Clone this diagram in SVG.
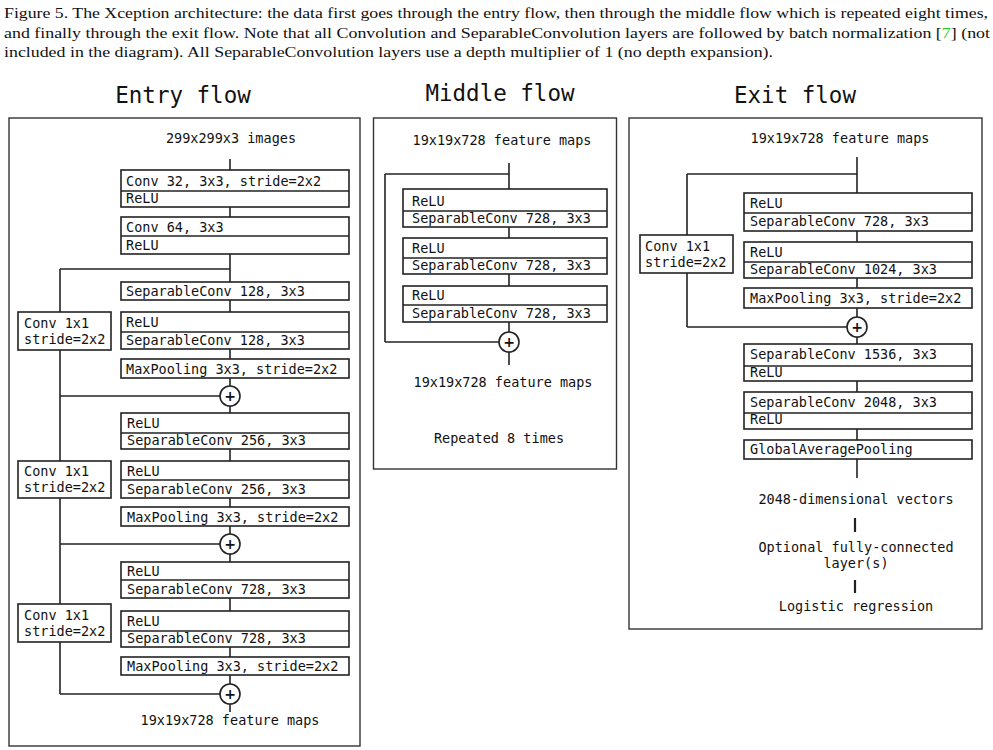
<svg xmlns="http://www.w3.org/2000/svg" width="993" height="750" viewBox="0 0 993 750">
<style>
.cap{font-family:"Liberation Serif","Times New Roman",serif;font-size:15.5px;fill:#111}
.t{font-family:"DejaVu Sans Mono","Liberation Mono",monospace;font-size:13.5px;fill:#111}
.c{text-anchor:middle}
.h{font-family:"DejaVu Sans Mono","Liberation Mono",monospace;font-size:22.5px;fill:#111;text-anchor:middle}
.b{fill:#fff;stroke:#222;stroke-width:1.6}
.fr{fill:#fff;stroke:#333;stroke-width:1.4}
.l{stroke:#222;stroke-width:1.6;fill:none}
.k{stroke:#222;stroke-width:2.2;fill:none}
.p{font-family:"DejaVu Sans","Liberation Sans",sans-serif;font-size:14px;font-weight:bold;fill:#111;text-anchor:middle}
</style>
<rect width="993" height="750" fill="#fff"/>
<g id="caption">
<text class="cap" x="4" y="18" textLength="984" lengthAdjust="spacingAndGlyphs">Figure 5. The Xception architecture: the data first goes through the entry flow, then through the middle flow which is repeated eight times,</text>
<text class="cap" x="4" y="37.5" textLength="986" lengthAdjust="spacingAndGlyphs">and finally through the exit flow. Note that all Convolution and SeparableConvolution layers are followed by batch normalization [<tspan fill="#22cc22">7</tspan>] (not</text>
<text class="cap" x="4" y="57" textLength="769" lengthAdjust="spacingAndGlyphs">included in the diagram). All SeparableConvolution layers use a depth multiplier of 1 (no depth expansion).</text>
</g>
<g id="titles">
<text class="h" x="183" y="103">Entry flow</text>
<text class="h" x="500" y="101">Middle flow</text>
<text class="h" x="795" y="103">Exit flow</text>
</g>
<g id="frames">
<rect class="fr" x="9" y="118" width="351" height="628"/>
<rect class="fr" x="373.5" y="118" width="243" height="351"/>
<rect class="fr" x="629" y="118" width="353" height="511"/>
</g>
<g id="connectors">
<!-- entry -->
<line class="l" x1="230" y1="159" x2="230" y2="170"/>
<line class="l" x1="230" y1="207" x2="230" y2="217"/>
<line class="l" x1="230" y1="254" x2="230" y2="282"/>
<line class="l" x1="60" y1="269" x2="230" y2="269"/>
<line class="l" x1="230" y1="300" x2="230" y2="312"/>
<line class="l" x1="230" y1="349" x2="230" y2="359"/>
<line class="l" x1="230" y1="378" x2="230" y2="386"/>
<line class="l" x1="60" y1="269" x2="60" y2="312"/>
<line class="l" x1="60" y1="350" x2="60" y2="396"/>
<line class="l" x1="60" y1="396" x2="220" y2="396"/>
<line class="l" x1="230" y1="406" x2="230" y2="413"/>
<line class="l" x1="230" y1="449" x2="230" y2="461"/>
<line class="l" x1="230" y1="498" x2="230" y2="507"/>
<line class="l" x1="230" y1="526" x2="230" y2="534"/>
<line class="l" x1="60" y1="396" x2="60" y2="461"/>
<line class="l" x1="60" y1="498" x2="60" y2="544"/>
<line class="l" x1="60" y1="544" x2="220" y2="544"/>
<line class="l" x1="230" y1="554" x2="230" y2="562"/>
<line class="l" x1="230" y1="598" x2="230" y2="611"/>
<line class="l" x1="230" y1="647" x2="230" y2="657"/>
<line class="l" x1="230" y1="675" x2="230" y2="684"/>
<line class="l" x1="60" y1="544" x2="60" y2="604"/>
<line class="l" x1="60" y1="642" x2="60" y2="694"/>
<line class="l" x1="60" y1="694" x2="220" y2="694"/>
<line class="l" x1="230" y1="704" x2="230" y2="712"/>
<!-- middle -->
<line class="l" x1="509" y1="163" x2="509" y2="189"/>
<line class="l" x1="385" y1="174" x2="509" y2="174"/>
<line class="l" x1="385" y1="174" x2="385" y2="342"/>
<line class="l" x1="385" y1="342" x2="499" y2="342"/>
<line class="l" x1="509" y1="227" x2="509" y2="238"/>
<line class="l" x1="509" y1="274" x2="509" y2="286"/>
<line class="l" x1="509" y1="322" x2="509" y2="332"/>
<line class="l" x1="509" y1="352" x2="509" y2="365"/>
<!-- exit -->
<line class="l" x1="857" y1="157" x2="857" y2="193"/>
<line class="l" x1="687" y1="174" x2="857" y2="174"/>
<line class="l" x1="687" y1="174" x2="687" y2="235"/>
<line class="l" x1="687" y1="273" x2="687" y2="327"/>
<line class="l" x1="687" y1="327" x2="847" y2="327"/>
<line class="l" x1="857" y1="231" x2="857" y2="242"/>
<line class="l" x1="857" y1="278" x2="857" y2="288"/>
<line class="l" x1="857" y1="308" x2="857" y2="317"/>
<line class="l" x1="857" y1="337" x2="857" y2="344"/>
<line class="l" x1="857" y1="381" x2="857" y2="392"/>
<line class="l" x1="857" y1="429" x2="857" y2="440"/>
<line class="l" x1="857" y1="459" x2="857" y2="478"/>
<line class="k" x1="855" y1="518" x2="855" y2="532"/>
<line class="k" x1="855" y1="580" x2="855" y2="593"/>
</g>
<!-- ENTRY FLOW NODES -->
<g id="entry-input"><text class="t c" x="231" y="143">299x299x3 images</text></g>
<g id="entry-conv32">
<rect class="b" x="121" y="170" width="228" height="37"/><line class="l" x1="121" y1="191" x2="349" y2="191"/>
<text class="t" x="126" y="186">Conv 32, 3x3, stride=2x2</text><text class="t" x="126" y="203">ReLU</text></g>
<g id="entry-conv64">
<rect class="b" x="121" y="217" width="228" height="37"/><line class="l" x1="121" y1="236" x2="349" y2="236"/>
<text class="t" x="126" y="232">Conv 64, 3x3</text><text class="t" x="126" y="250">ReLU</text></g>
<g id="entry-sep128a">
<rect class="b" x="121" y="282" width="228" height="18"/>
<text class="t" x="126" y="296">SeparableConv 128, 3x3</text></g>
<g id="entry-sep128b">
<rect class="b" x="121" y="312" width="228" height="37"/><line class="l" x1="121" y1="332" x2="349" y2="332"/>
<text class="t" x="126" y="327">ReLU</text><text class="t" x="126" y="345">SeparableConv 128, 3x3</text></g>
<g id="entry-skip1">
<rect class="b" x="18" y="312" width="93" height="38"/>
<text class="t" x="24" y="328">Conv 1x1</text><text class="t" x="24" y="344">stride=2x2</text></g>
<g id="entry-pool1">
<rect class="b" x="121" y="359" width="228" height="19"/>
<text class="t" x="126" y="374">MaxPooling 3x3, stride=2x2</text></g>
<g id="entry-add1"><circle class="b" cx="230" cy="396" r="10"/><text class="p" x="230" y="401">+</text></g>
<g id="entry-sep256a">
<rect class="b" x="121" y="413" width="228" height="36"/><line class="l" x1="121" y1="433" x2="349" y2="433"/>
<text class="t" x="127" y="428">ReLU</text><text class="t" x="127" y="445">SeparableConv 256, 3x3</text></g>
<g id="entry-skip2">
<rect class="b" x="18" y="461" width="93" height="37"/>
<text class="t" x="24" y="476">Conv 1x1</text><text class="t" x="24" y="492">stride=2x2</text></g>
<g id="entry-sep256b">
<rect class="b" x="121" y="461" width="228" height="37"/><line class="l" x1="121" y1="480" x2="349" y2="480"/>
<text class="t" x="127" y="476">ReLU</text><text class="t" x="127" y="494">SeparableConv 256, 3x3</text></g>
<g id="entry-pool2">
<rect class="b" x="121" y="507" width="228" height="19"/>
<text class="t" x="127" y="522">MaxPooling 3x3, stride=2x2</text></g>
<g id="entry-add2"><circle class="b" cx="230" cy="544" r="10"/><text class="p" x="230" y="549">+</text></g>
<g id="entry-sep728a">
<rect class="b" x="121" y="562" width="228" height="36"/><line class="l" x1="121" y1="580" x2="349" y2="580"/>
<text class="t" x="127" y="576">ReLU</text><text class="t" x="127" y="594">SeparableConv 728, 3x3</text></g>
<g id="entry-skip3">
<rect class="b" x="18" y="604" width="93" height="38"/>
<text class="t" x="24" y="620">Conv 1x1</text><text class="t" x="24" y="636">stride=2x2</text></g>
<g id="entry-sep728b">
<rect class="b" x="121" y="611" width="228" height="36"/><line class="l" x1="121" y1="631" x2="349" y2="631"/>
<text class="t" x="127" y="626">ReLU</text><text class="t" x="127" y="643">SeparableConv 728, 3x3</text></g>
<g id="entry-pool3">
<rect class="b" x="121" y="657" width="228" height="18"/>
<text class="t" x="127" y="671">MaxPooling 3x3, stride=2x2</text></g>
<g id="entry-add3"><circle class="b" cx="230" cy="694" r="10"/><text class="p" x="230" y="699">+</text></g>
<g id="entry-output"><text class="t c" x="230" y="725">19x19x728 feature maps</text></g>
<!-- MIDDLE FLOW NODES -->
<g id="middle-input"><text class="t c" x="502" y="145">19x19x728 feature maps</text></g>
<g id="middle-sep1">
<rect class="b" x="403" y="189" width="204" height="38"/><line class="l" x1="403" y1="211" x2="607" y2="211"/>
<text class="t" x="412" y="206">ReLU</text><text class="t" x="412" y="223">SeparableConv 728, 3x3</text></g>
<g id="middle-sep2">
<rect class="b" x="403" y="238" width="204" height="36"/><line class="l" x1="403" y1="258" x2="607" y2="258"/>
<text class="t" x="412" y="253">ReLU</text><text class="t" x="412" y="270">SeparableConv 728, 3x3</text></g>
<g id="middle-sep3">
<rect class="b" x="403" y="286" width="204" height="36"/><line class="l" x1="403" y1="305" x2="607" y2="305"/>
<text class="t" x="412" y="300">ReLU</text><text class="t" x="412" y="318">SeparableConv 728, 3x3</text></g>
<g id="middle-add"><circle class="b" cx="509" cy="342" r="10"/><text class="p" x="509" y="347">+</text></g>
<g id="middle-output"><text class="t c" x="503" y="387">19x19x728 feature maps</text></g>
<g id="middle-repeat"><text class="t c" x="499" y="443">Repeated 8 times</text></g>
<!-- EXIT FLOW NODES -->
<g id="exit-input"><text class="t c" x="840" y="143">19x19x728 feature maps</text></g>
<g id="exit-sep728">
<rect class="b" x="744" y="193" width="228" height="38"/><line class="l" x1="744" y1="213" x2="972" y2="213"/>
<text class="t" x="750" y="208">ReLU</text><text class="t" x="750" y="226">SeparableConv 728, 3x3</text></g>
<g id="exit-skip">
<rect class="b" x="640" y="235" width="93" height="38"/>
<text class="t" x="645" y="251">Conv 1x1</text><text class="t" x="645" y="267">stride=2x2</text></g>
<g id="exit-sep1024">
<rect class="b" x="744" y="242" width="228" height="36"/><line class="l" x1="744" y1="262" x2="972" y2="262"/>
<text class="t" x="750" y="257">ReLU</text><text class="t" x="750" y="274">SeparableConv 1024, 3x3</text></g>
<g id="exit-pool">
<rect class="b" x="744" y="288" width="228" height="20"/>
<text class="t" x="750" y="303">MaxPooling 3x3, stride=2x2</text></g>
<g id="exit-add"><circle class="b" cx="857" cy="327" r="10"/><text class="p" x="857" y="332">+</text></g>
<g id="exit-sep1536">
<rect class="b" x="744" y="344" width="228" height="37"/><line class="l" x1="744" y1="366" x2="972" y2="366"/>
<text class="t" x="750" y="359">SeparableConv 1536, 3x3</text><text class="t" x="750" y="377">ReLU</text></g>
<g id="exit-sep2048">
<rect class="b" x="744" y="392" width="228" height="37"/><line class="l" x1="744" y1="413" x2="972" y2="413"/>
<text class="t" x="750" y="407">SeparableConv 2048, 3x3</text><text class="t" x="750" y="424">ReLU</text></g>
<g id="exit-gap">
<rect class="b" x="744" y="440" width="228" height="19"/>
<text class="t" x="750" y="454">GlobalAveragePooling</text></g>
<g id="exit-vectors"><text class="t c" x="856" y="504">2048-dimensional vectors</text></g>
<g id="exit-fc"><text class="t c" x="856" y="552">Optional fully-connected</text><text class="t c" x="856" y="568">layer(s)</text></g>
<g id="exit-logreg"><text class="t c" x="856" y="611">Logistic regression</text></g>
</svg>
